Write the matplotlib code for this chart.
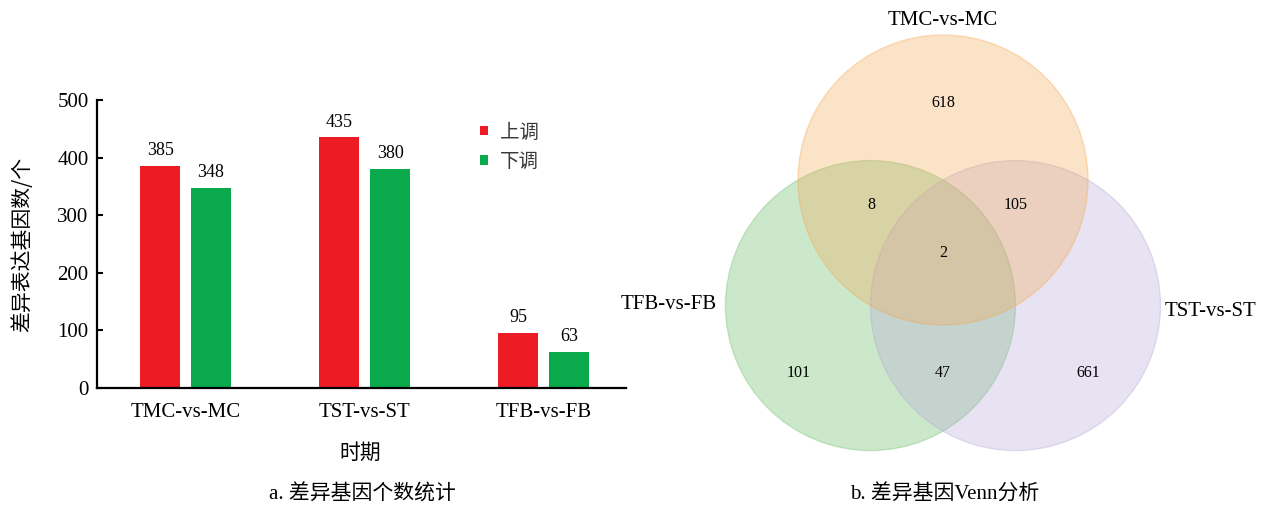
import matplotlib
matplotlib.use("Agg")
import matplotlib.pyplot as plt
from matplotlib.patches import Circle
import numpy as np

SERIF = ['Liberation Serif', 'Noto Sans CJK SC']
HEI = ['Noto Sans CJK SC', 'DejaVu Sans']

# differential gene counts per comparison
groups = ['TMC-vs-MC', 'TST-vs-ST', 'TFB-vs-FB']
up = [385, 435, 95]
down = [348, 380, 63]
series_names = ['上调', '下调']

# venn region counts
venn_sets = ['TMC-vs-MC', 'TFB-vs-FB', 'TST-vs-ST']
venn_counts = {'100': 618, '110': 8, '101': 105, '111': 2,
               '010': 101, '011': 47, '001': 661}

RED = '#ED1C24'
GREEN = '#0AAA4C'

fig = plt.figure(figsize=(12.72, 5.08), dpi=100)
W, H = 1272.0, 508.0

# ---- a. bar chart ----
ax = fig.add_axes([97 / W, (H - 388) / H, 529 / W, 288 / H])
x = np.arange(len(groups))
off, bw = 0.142, 0.223
b1 = ax.bar(x - off, up, bw, color=RED, label=series_names[0])
b2 = ax.bar(x + off, down, bw, color=GREEN, label=series_names[1])
for bars, vals in ((b1, up), (b2, down)):
    for r, v in zip(bars, vals):
        ax.text(r.get_x() + r.get_width() / 2, v + 12, str(v), ha='center', va='bottom',
                fontsize=13, family=SERIF)

ax.set_xlim(-0.494, 2.458)
ax.set_ylim(0, 500)
ax.set_yticks([0, 100, 200, 300, 400, 500])
ax.set_xticks(x)
ax.set_xticklabels(groups)
for lab in ax.get_xticklabels() + ax.get_yticklabels():
    lab.set_family(SERIF)
    lab.set_fontsize(15)
ax.tick_params(axis='y', direction='in', length=4, width=1.5, pad=6)
ax.tick_params(axis='x', length=0, pad=11)
for s in ('top', 'right'):
    ax.spines[s].set_visible(False)
for s in ('left', 'bottom'):
    ax.spines[s].set_linewidth(1.6)

ax.set_ylabel('差异表达基因数/个', family=HEI, fontsize=15)
ax.yaxis.set_label_coords((22 - 97) / 529, 0.5)
ax.yaxis.label.set_va('center')
ax.set_xlabel('时期', family=HEI, fontsize=15)
ax.xaxis.set_label_coords((360 - 97) / 529, (388 - 453) / 288)
ax.xaxis.label.set_va('center')

leg = ax.legend(loc='upper left', bbox_to_anchor=((463 - 97) / 529, (388 - 104) / 288),
                frameon=False, handlelength=0.4, handleheight=0.4, handletextpad=0.6,
                labelspacing=0.45, prop={'family': HEI, 'size': 14})
for t in leg.get_texts():
    t.set_color('#3a3a3a')

# ---- b. venn diagram (unit circles, 145 px per unit) ----
R = 145.0
vx = fig.add_axes([643 / W, (H - 470) / H, 600 / W, 470 / H])
vx.set_xlim(-300 / R, 300 / R)
vx.set_ylim(-290 / R, 180 / R)
vx.axis('off')

h = np.sqrt(3) / 2
# drawn bottom-left, bottom-right, then top so the top circle tints the overlaps
circles = [((-0.5, -h), '#6DBE6A', 0.35),
           ((0.5, -h), '#B5A5D5', 0.30),
           ((0, 0), '#F5A54A', 0.30)]
for (cx, cy), col, a in circles:
    vx.add_patch(Circle((cx, cy), 1.0, facecolor=col, alpha=a, edgecolor='none'))
    vx.add_patch(Circle((cx, cy), 1.0, facecolor='none', edgecolor=col, alpha=0.35, lw=1.0))

region_pos = {'100': (0, 0.531), '110': (-0.497, -0.172), '101': (0.50, -0.172),
              '111': (0, -0.503), '010': (-0.997, -1.331), '011': (0, -1.331),
              '001': (0.999, -1.331)}
for key, n in venn_counts.items():
    px, py = region_pos[key]
    vx.text(px, py, str(n), ha='center', va='center', fontsize=11.5, family=SERIF)

label_pos = [(0, 1.10), (-1.89, -0.862), (1.845, -0.91)]
for name, (px, py) in zip(venn_sets, label_pos):
    vx.text(px, py, name, ha='center', va='center', fontsize=15, family=SERIF)

# captions
fig.text(362 / W, 1 - 495 / H, 'a. 差异基因个数统计', ha='center', va='center',
         fontsize=15, family=SERIF)
fig.text(945 / W, 1 - 495 / H, 'b. 差异基因Venn分析', ha='center', va='center',
         fontsize=15, family=SERIF)

fig.savefig('out.png', dpi=100)
